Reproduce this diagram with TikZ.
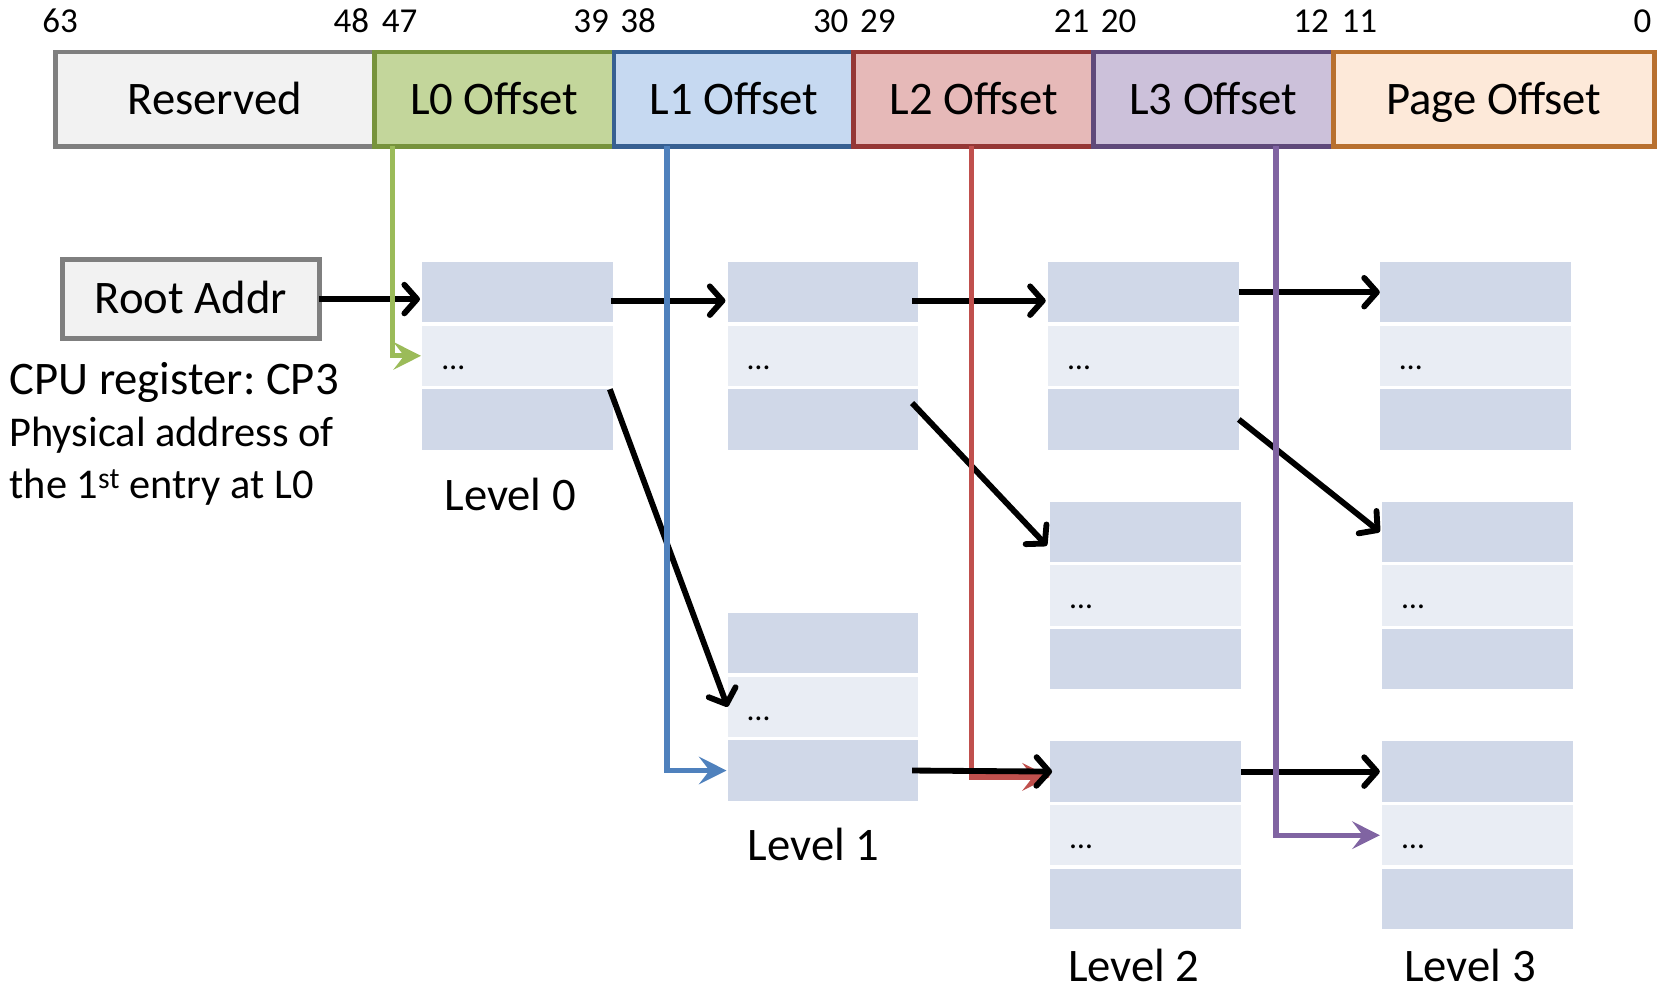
\documentclass[tikz,border=0pt]{standalone}
\usepackage{fontspec}
\setmainfont{Carlito}
\usetikzlibrary{arrows.meta}
\frenchspacing

% field colours of the virtual address
\definecolor{resfill}{HTML}{F2F2F2}
\definecolor{resline}{HTML}{7F7F7F}
\definecolor{lzfill}{HTML}{C3D69B}
\definecolor{lzline}{HTML}{77933C}
\definecolor{lafill}{HTML}{C6D9F1}
\definecolor{laline}{HTML}{376092}
\definecolor{lbfill}{HTML}{E6B9B8}
\definecolor{lbline}{HTML}{953735}
\definecolor{lcfill}{HTML}{CCC1DA}
\definecolor{lcline}{HTML}{5F497A}
\definecolor{pagefill}{HTML}{FDE9D9}
\definecolor{pageline}{HTML}{B8702F}
% table cells
\definecolor{celldark}{HTML}{D0D8E8}
\definecolor{celllight}{HTML}{E9EDF4}
% index connectors
\definecolor{accgreen}{HTML}{9BBB59}
\definecolor{accblue}{HTML}{4F81BD}
\definecolor{accred}{HTML}{C0504D}
\definecolor{accpurple}{HTML}{8064A2}

\tikzset{
  every node/.style={inner sep=0pt, outer sep=0pt},
  big/.style={font=\fontsize{44}{52}\selectfont},
  small/.style={font=\fontsize{40}{48}\selectfont},
  bitnum/.style={font=\fontsize{33}{38}\selectfont},
  field/.style={big, anchor=west, minimum height=89pt, line width=4.5pt,
                text height=28pt, text depth=0pt},
  celld/.style={fill=celldark, minimum width=180pt, minimum height=57pt, anchor=north west},
  celll/.style={fill=celllight, minimum width=180pt, minimum height=57pt, anchor=north west},
  dotsym/.style={font=\fontsize{30}{34}\selectfont, anchor=base west},
  ptr/.style={line width=5.5pt, -{Straight Barb[length=12pt,width=27pt,round]}},
  idx/.style={line width=5pt, -{Stealth[length=26pt,width=26pt,inset=10pt]}},
}

% one translation table: name, left x, top y
\newcommand\pagetable[3]{%
  \node[celld] (#1-1) at (#2,#3) {};
  \node[celll] (#1-2) at (#2,#3+60) {};
  \node[celld] (#1-3) at (#2,#3+120) {};
  \node[dotsym] (#1-d) at (#2+19,#3+101) {…};
}

\begin{document}
\begin{tikzpicture}[x=1pt, y=-1pt]
\useasboundingbox (0,0) rectangle (1568,934);

% virtual address fields
\node[field, draw=resline, fill=resfill, minimum width=301pt] (res) at (52,93.5) {Reserved};
\node[field, draw=lzline, fill=lzfill, minimum width=226pt] (l0) at (353,93.5) {L0 Offset};
\node[field, draw=laline, fill=lafill, minimum width=226pt] (l1) at (579,93.5) {L1 Offset};
\node[field, draw=lbline, fill=lbfill, minimum width=226pt] (l2) at (805,93.5) {L2 Offset};
\node[field, draw=lcline, fill=lcfill, minimum width=226pt] (l3) at (1031,93.5) {L3 Offset};
\node[field, draw=pageline, fill=pagefill, minimum width=303pt] (pg) at (1257,93.5) {Page Offset};

% bit numbers
\node[bitnum, anchor=base west] (b63) at (40,31) {63};
\node[bitnum, anchor=base east] (b48) at (348,31) {48};
\node[bitnum, anchor=base west] (b47) at (360,31) {47};
\node[bitnum, anchor=base east] (b39) at (574,31) {39};
\node[bitnum, anchor=base west] (b38) at (585,31) {38};
\node[bitnum, anchor=base east] (b30) at (800,31) {30};
\node[bitnum, anchor=base west] (b29) at (811,31) {29};
\node[bitnum, anchor=base east] (b21) at (1027,31) {21};
\node[bitnum, anchor=base west] (b20) at (1038,31) {20};
\node[bitnum, anchor=base east] (b12) at (1253,31) {12};
\node[bitnum, anchor=base west] (b11) at (1265,31) {11};
\node[bitnum, anchor=base east] (b0) at (1557,31) {0};

% root register
\node[big, draw=resline, fill=resfill, line width=4.5pt, minimum width=242pt,
      minimum height=75pt, text height=28pt, text depth=0pt] (root) at (180,282) {Root Addr};
\node[big, anchor=base west] (cpu) at (9,372) {CPU register: CP3};
\node[small, anchor=base west] (phys) at (9,421) {Physical address of};
\node[small, anchor=base west] (first) at (9,470) {the 1\textsuperscript{st} entry at L0};

% tables
\pagetable{t0}{398}{247}
\pagetable{t1a}{686}{247}
\pagetable{t1b}{686}{578}
\pagetable{t2a}{988}{247}
\pagetable{t2b}{990}{473}
\pagetable{t2c}{990}{699}
\pagetable{t3a}{1301}{247}
\pagetable{t3b}{1303}{473}
\pagetable{t3c}{1303}{699}

\node[big, anchor=base] (lv0) at (481,481) {Level 0};
\node[big, anchor=base] (lv1) at (767,811) {Level 1};
\node[big, anchor=base] (lv2) at (1069,925) {Level 2};
\node[big, anchor=base] (lv3) at (1386,925) {Level 3};

% table pointers
\draw[ptr] (root.east) -- ([xshift=-2pt]root.east -| t0-1.west);
\draw[ptr] ([xshift=-2pt,yshift=-8pt]t0-1.east) -- ([xshift=-2pt,yshift=-8pt]t1a-1.west);
\draw[ptr] ([xshift=-6pt,yshift=-8pt]t1a-1.east) -- ([xshift=-2pt,yshift=-8pt]t2a-1.west);
\draw[ptr] (t2a-1.east) -- (t3a-1.west);
\draw[ptr] ([xshift=-3pt]t0-3.north east) -- (t1b-2.west);
\draw[ptr] ([xshift=-6pt,yshift=-13pt]t1a-3.north east) -- ([xshift=-3pt,yshift=-13pt]t2b-1.west);
\draw[ptr] (t2a-3.east) -- ([xshift=-2pt]t3b-1.west);
\draw[ptr] (t2c-1.east) -- ([xshift=-2pt]t3c-1.west);

% offset indices
\draw[idx, accgreen] ([xshift=17pt]l0.south west) |- ([xshift=-1pt]t0-2.west);
\draw[idx, accblue] ([xshift=50pt]l1.south west) |- ([xshift=-1pt]t1b-3.west);
\draw[idx, accred] ([xshift=111pt]l2.south west) |- ([yshift=-5pt]t2c-1.west);
\draw[idx, accpurple] ([xshift=172pt]l3.south west) |- ([xshift=-2pt]t3c-2.west);

\draw[ptr] ([xshift=-6pt]t1b-3.east) -- ([xshift=2pt]t2c-1.west);
\end{tikzpicture}
\end{document}
